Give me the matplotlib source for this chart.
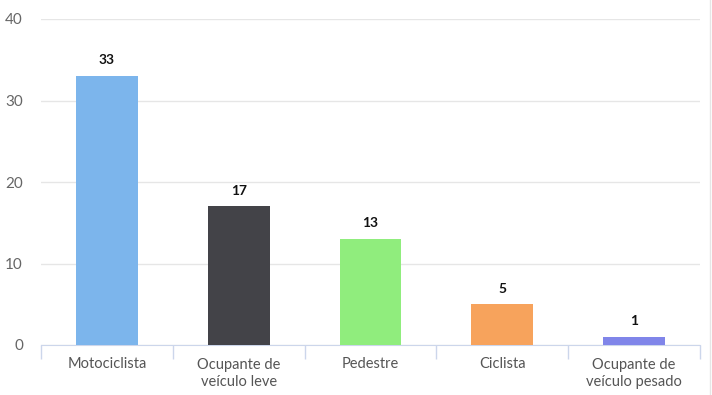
import matplotlib
matplotlib.use("Agg")
import matplotlib.pyplot as plt
import numpy as np

# dados
categorias = ["Motociclista", "Ocupante de\nveículo leve", "Pedestre", "Ciclista", "Ocupante de\nveículo pesado"]
valores = [33, 17, 13, 5, 1]
cores = ["#7cb5ec", "#434348", "#90ed7d", "#f7a35c", "#8085e9"]
yticks = [0, 10, 20, 30, 40]

plt.rcParams["font.family"] = ["Lato", "DejaVu Sans"]

fig = plt.figure(figsize=(7.12, 3.95), dpi=100)
ax = fig.add_axes([41 / 712, 50 / 395, 659 / 712, 326 / 395])

pos = np.arange(len(categorias))
rects = ax.bar(pos, valores, width=0.47, color=cores, zorder=3)
for r, v in zip(rects, valores):
    ax.annotate(str(v), (r.get_x() + r.get_width() / 2, v), xytext=(0, 7),
                textcoords="offset points", ha="center", va="bottom",
                fontsize=10, fontweight="bold", color="#111111")

ax.set_xlim(-0.5, len(categorias) - 0.5)
ax.set_ylim(0, 40)
ax.set_yticks(yticks)
ax.yaxis.grid(True, color="#e6e6e6", linewidth=1, zorder=0)
ax.tick_params(axis="y", length=0, labelsize=11, labelcolor="#666666", pad=13)

ax.set_xticks(pos)
ax.set_xticklabels(categorias, fontsize=10.5, color="#555555", linespacing=1.3)
ax.tick_params(axis="x", length=0, pad=9)
ax.set_xticks(np.arange(-0.5, len(categorias)), minor=True)
ax.tick_params(axis="x", which="minor", length=10, color="#ccd6eb", width=1)

for s in ["top", "right", "left"]:
    ax.spines[s].set_visible(False)
ax.spines["bottom"].set_color("#ccd6eb")

fig.add_artist(plt.Line2D([710 / 712, 710 / 712], [0, 1], color="#e6e6e6", linewidth=1))

fig.savefig("out.png", dpi=100)
